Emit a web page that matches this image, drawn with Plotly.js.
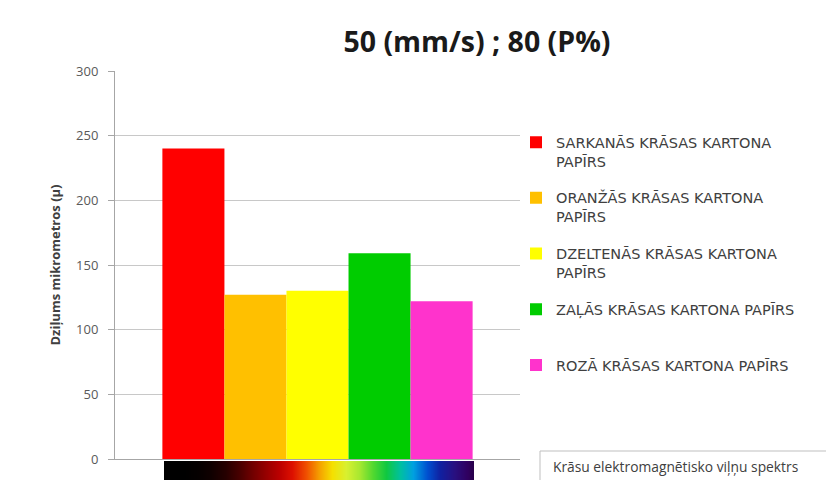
<!DOCTYPE html>
<html>
<head>
<meta charset="utf-8">
<script src="https://cdn.plot.ly/plotly-3.0.1.min.js"></script>
<style>html,body{margin:0;padding:0;background:#fff;}#chart{width:826px;height:480px;}</style>
</head>
<body>
<div id="chart"></div>
<script>
// Data
const category = [""];
const seriesNames = [
  "SARKANĀS KRĀSAS KARTONA<br>PAPĪRS",
  "ORANŽĀS KRĀSAS KARTONA<br>PAPĪRS",
  "DZELTENĀS KRĀSAS KARTONA<br>PAPĪRS",
  "ZAĻĀS KRĀSAS KARTONA PAPĪRS<br> ",
  "ROZĀ KRĀSAS KARTONA PAPĪRS"
];
const seriesValues = [240, 127, 130, 159, 122];
const seriesColors = ["#ff0000", "#ffc000", "#ffff00", "#00cc00", "#ff33cc"];
const yTickVals = [0, 50, 100, 150, 200, 250, 300];
const spectrumColors = [
  "#000000","#000000","#050000","#100000","#250000","#450000","#700000","#950000",
  "#bb0000","#dd1000","#f05000","#f5a000","#f5e000","#d8f030","#a8e830","#50d830",
  "#10c840","#00c0a0","#00a0e0","#0050d0","#1020a0","#281080","#300060","#200030"
];

const font = "'Open Sans', sans-serif";
const legendFont = "'DejaVu Sans', 'Open Sans', sans-serif";

const traces = seriesNames.map((n, i) => ({
  type: "bar",
  x: category,
  y: [seriesValues[i]],
  name: n,
  legendgroup: "g" + i,
  marker: {color: seriesColors[i], line: {width: 0}},
  xaxis: "x", yaxis: "y",
  hoverinfo: "y"
}));

const idx = spectrumColors.map((c, i) => i);
traces.push({
  type: "heatmap",
  z: [idx],
  x: idx,
  zsmooth: "best",
  colorscale: spectrumColors.map((c, i) => [i / (spectrumColors.length - 1), c]),
  showscale: false,
  showlegend: false,
  xaxis: "x2", yaxis: "y2",
  hoverinfo: "skip"
});

const layout = {
  width: 826, height: 480,
  margin: {l: 115, r: 306, t: 71, b: 0},
  paper_bgcolor: "#fff", plot_bgcolor: "#fff",
  font: {family: font, color: "#404040"},
  title: {
    text: "<b>50 (mm/s) ; 80 (P%)</b>",
    font: {family: font, size: 28.5, color: "#1a1a1a"},
    x: 477 / 826, xanchor: "center", xref: "container",
    y: 1 - 42 / 480, yanchor: "middle", yref: "container"
  },
  barmode: "group",
  bargap: 0.234,
  bargroupgap: 0,
  showlegend: true,
  legend: {
    x: (516 - 115) / 405, xanchor: "left", y: 0.865, yanchor: "top",
    font: {family: legendFont, size: 14.5, color: "#404040"},
    valign: "top",
    traceorder: "grouped",
    tracegroupgap: 15,
    itemwidth: 30,
    bgcolor: "rgba(0,0,0,0)"
  },
  xaxis: {
    domain: [0, 1], anchor: "y",
    type: "category",
    range: [-0.5, 0.5],
    showticklabels: false, ticks: "",
    showline: true, linecolor: "#a6a6a6", linewidth: 1,
    showgrid: false, zeroline: false, fixedrange: true
  },
  yaxis: {
    domain: [21 / 409, 1], anchor: "x",
    range: [0, 300],
    tickvals: yTickVals,
    ticks: "outside", ticklen: 6, tickcolor: "#a6a6a6",
    ticklabelstandoff: 7,
    tickfont: {family: font, size: 13, color: "#595959"},
    showline: true, linecolor: "#a6a6a6", linewidth: 1,
    showgrid: true, gridcolor: "#c8c8c8", gridwidth: 1,
    zeroline: false,
    title: {text: "<b>Dziļums mikrometros (µ)</b>", font: {family: font, size: 13, color: "#404040"}, standoff: 12},
    fixedrange: true
  },
  xaxis2: {
    domain: [(164 - 115) / 405, (474 - 115) / 405], anchor: "y2",
    range: [-0.5, spectrumColors.length - 1.5],
    visible: false, fixedrange: true
  },
  yaxis2: {
    domain: [0, 19 / 409], anchor: "x2",
    visible: false, fixedrange: true
  },
  shapes: [{
    type: "rect", xref: "paper", yref: "paper",
    x0: (540 - 115) / 405, x1: (830 - 115) / 405,
    y0: -0.05, y1: (480 - 451) / 409,
    line: {color: "#bfbfbf", width: 1}, fillcolor: "rgba(0,0,0,0)"
  }],
  annotations: [{
    text: "Krāsu elektromagnētisko viļņu spektrs",
    xref: "paper", yref: "paper",
    x: (551 - 115) / 405, xanchor: "left",
    y: (480 - 466) / 409, yanchor: "middle",
    showarrow: false,
    font: {family: font, size: 13.8, color: "#404040"}
  }]
};

Plotly.newPlot("chart", traces, layout, {displayModeBar: false, staticPlot: true});
</script>
</body>
</html>
